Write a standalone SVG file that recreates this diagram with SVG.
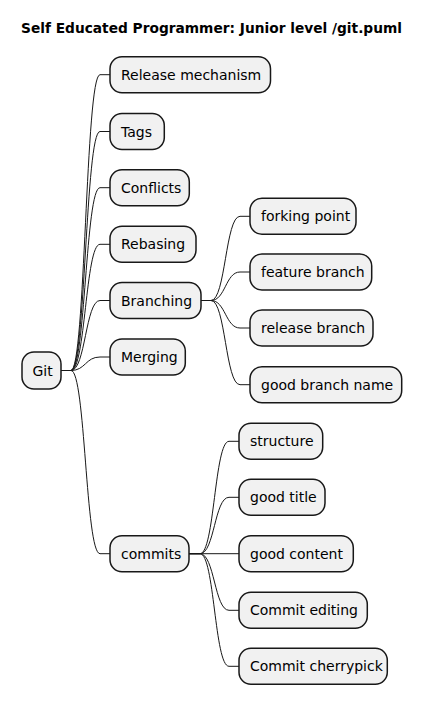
<svg xmlns="http://www.w3.org/2000/svg" width="424" height="705" viewBox="0 0 424 705">
<style>
.n rect{fill:#F1F1F1;stroke:#181818;stroke-width:1.5}
.n text{font-family:"DejaVu Sans",sans-serif;font-size:14px;fill:#000}
.c path{fill:none;stroke:#181818;stroke-width:1}
.t{font-family:"DejaVu Sans",sans-serif;font-size:14px;font-weight:bold;fill:#000}
</style>
<rect width="424" height="705" fill="#FFFFFF"/>
<text class="t" x="21" y="33" textLength="381" lengthAdjust="spacingAndGlyphs">Self Educated Programmer: Junior level /git.puml</text>
<g class="c" id="connectors">
<path d="M61,370.5 H71 C85.5,370.5 85.5,74.7 100,74.7 H110"/>
<path d="M61,370.5 H71 C85.5,370.5 85.5,131.5 100,131.5 H110"/>
<path d="M61,370.5 H71 C85.5,370.5 85.5,187.7 100,187.7 H110"/>
<path d="M61,370.5 H71 C85.5,370.5 85.5,244.3 100,244.3 H110"/>
<path d="M61,370.5 H71 C85.5,370.5 85.5,300.5 100,300.5 H110"/>
<path d="M61,370.5 H71 C85.5,370.5 85.5,357 100,357 H110"/>
<path d="M61,370.5 H71 C85.5,370.5 85.5,553.7 100,553.7 H110"/>
<path d="M201,300.5 H211 C225.5,300.5 225.5,216.3 240,216.3 H250"/>
<path d="M201,300.5 H211 C225.5,300.5 225.5,272 240,272 H250"/>
<path d="M201,300.5 H211 C225.5,300.5 225.5,328 240,328 H250"/>
<path d="M201,300.5 H211 C225.5,300.5 225.5,384.7 240,384.7 H250"/>
<path d="M189,553.7 H200 C214.5,553.7 214.5,441.3 229,441.3 H239"/>
<path d="M189,553.7 H200 C214.5,553.7 214.5,497.3 229,497.3 H239"/>
<path d="M189,553.7 H239"/>
<path d="M189,553.7 H200 C214.5,553.7 214.5,610.3 229,610.3 H239"/>
<path d="M189,553.7 H200 C214.5,553.7 214.5,666.3 229,666.3 H239"/>
</g>
<g class="n" id="git"><rect x="22" y="352" width="39" height="37" rx="12"/><text x="32.5" y="375.5">Git</text></g>
<g class="n" id="release-mechanism"><rect x="110" y="56.7" width="160.5" height="36" rx="12"/><text x="121" y="79.7">Release mechanism</text></g>
<g class="n" id="tags"><rect x="110" y="113.5" width="54.3" height="36" rx="12"/><text x="121" y="136.5">Tags</text></g>
<g class="n" id="conflicts"><rect x="110" y="169.7" width="79.3" height="36" rx="12"/><text x="121" y="192.7">Conflicts</text></g>
<g class="n" id="rebasing"><rect x="110" y="226.3" width="86" height="36" rx="12"/><text x="121" y="249.3">Rebasing</text></g>
<g class="n" id="branching"><rect x="110" y="282.5" width="91" height="36" rx="12"/><text x="121" y="305.5">Branching</text></g>
<g class="n" id="merging"><rect x="110" y="339" width="75.3" height="36" rx="12"/><text x="121" y="362">Merging</text></g>
<g class="n" id="commits"><rect x="110" y="535.7" width="79" height="36" rx="12"/><text x="121" y="558.7">commits</text></g>
<g class="n" id="forking-point"><rect x="250" y="198.3" width="106" height="36" rx="12"/><text x="261" y="221.3">forking point</text></g>
<g class="n" id="feature-branch"><rect x="250" y="254" width="121.7" height="36" rx="12"/><text x="261" y="277">feature branch</text></g>
<g class="n" id="release-branch"><rect x="250" y="310" width="123" height="36" rx="12"/><text x="261" y="333">release branch</text></g>
<g class="n" id="good-branch-name"><rect x="250" y="366.7" width="151.7" height="36" rx="12"/><text x="261" y="389.7">good branch name</text></g>
<g class="n" id="structure"><rect x="239" y="423.3" width="83.7" height="36" rx="12"/><text x="250" y="446.3">structure</text></g>
<g class="n" id="good-title"><rect x="239" y="479.3" width="86" height="36" rx="12"/><text x="250" y="502.3">good title</text></g>
<g class="n" id="good-content"><rect x="239" y="535.7" width="114.3" height="36" rx="12"/><text x="250" y="558.7">good content</text></g>
<g class="n" id="commit-editing"><rect x="239" y="592.3" width="128.3" height="36" rx="12"/><text x="250" y="615.3">Commit editing</text></g>
<g class="n" id="commit-cherrypick"><rect x="239" y="648.3" width="148.3" height="36" rx="12"/><text x="250" y="671.3">Commit cherrypick</text></g>
</svg>
